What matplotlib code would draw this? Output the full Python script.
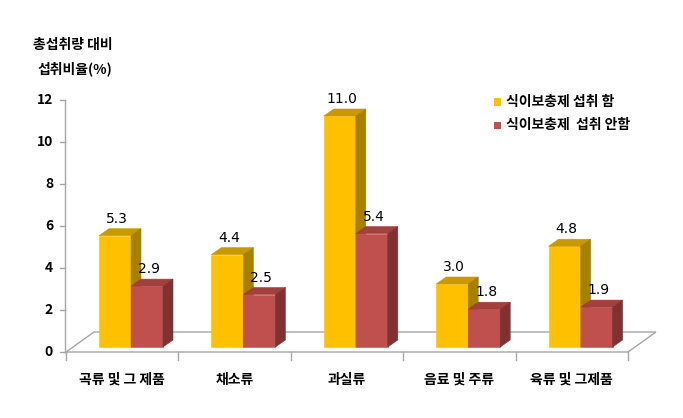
import matplotlib.pyplot as plt
from matplotlib.patches import Polygon

plt.rcParams['font.family'] = ['Noto Sans CJK KR', 'DejaVu Sans']

# data
categories = ['곡류 및 그 제품', '채소류', '과실류', '음료 및 주류', '육류 및 그제품']
taking = [5.3, 4.4, 11.0, 3.0, 4.8]
not_taking = [2.9, 2.5, 5.4, 1.8, 1.9]
series_names = ['식이보충제 섭취 함', '식이보충제  섭취 안함']
yticks = [0, 2, 4, 6, 8, 10, 12]

W, H = 683, 418
fig = plt.figure(figsize=(W / 100, H / 100), dpi=100)
ax = fig.add_axes([66 / W, (H - 352) / H, (628 - 66) / W, (352 - 100) / H])
ax.set_xlim(0, 5)
ax.set_ylim(0, 12)
ax.axis('off')

# pixel -> data helpers for 3d offsets
px_x = 5 / (628 - 66)
px_y = 12 / (352 - 100)
ddx, ddy = 10 * px_x, 7 * px_y      # bar depth
fdx, fdy = 28 * px_x, 20 * px_y     # floor depth
base = 5 * px_y
bw = 32 * px_x
grey = '#a6a6a6'

# floor
floor = Polygon([(0, 0), (5, 0), (5 + fdx, fdy), (fdx, fdy)], closed=True,
                facecolor='white', edgecolor=grey, lw=1, clip_on=False, zorder=1)
ax.add_patch(floor)

# y axis
ax.plot([-1.5 * px_x, -1.5 * px_x], [0, 12], color=grey, lw=1, clip_on=False)
for t in yticks:
    ax.plot([-6.5 * px_x, -1.5 * px_x], [t, t], color=grey, lw=1, clip_on=False)
    ax.text(-13 * px_x, t, str(t), ha='right', va='center', fontsize=10,
            fontweight='bold', clip_on=False)

# x ticks and labels
for i in range(6):
    ax.plot([i, i], [0, -8 * px_y], color=grey, lw=1, clip_on=False)
for i, c in enumerate(categories):
    ax.text(i + 0.5, -28 * px_y, c, ha='center', va='center', fontsize=10,
            fontweight='bold', clip_on=False)

colors = [('#ffc000', '#c89a00', '#a88000'), ('#c0504d', '#a33f3c', '#7f3230')]


def bar3d(x0, v, cols):
    front, top, side = cols
    y0, y1 = base, base + v
    kw = dict(lw=0.4, zorder=3, clip_on=False)
    ax.add_patch(Polygon([(x0, y0), (x0 + bw, y0), (x0 + bw, y1), (x0, y1)],
                         facecolor=front, edgecolor=front, **kw))
    ax.add_patch(Polygon([(x0, y1), (x0 + bw, y1), (x0 + bw + ddx, y1 + ddy), (x0 + ddx, y1 + ddy)],
                         facecolor=top, edgecolor=top, **kw))
    ax.add_patch(Polygon([(x0 + bw, y0), (x0 + bw + ddx, y0 + ddy), (x0 + bw + ddx, y1 + ddy), (x0 + bw, y1)],
                         facecolor=side, edgecolor=side, **kw))
    ax.text(x0 + bw / 2 + ddx * 0.2, y1 + ddy + 3 * px_y, f'{v:.1f}', ha='center',
            va='bottom', fontsize=10, fontfamily='DejaVu Sans', clip_on=False, zorder=4)


for i in range(5):
    x_y = i + 33 * px_x
    bar3d(x_y, taking[i], colors[0])
    bar3d(x_y + bw, not_taking[i], colors[1])

# y title
fig.text(33 / W, 1 - 45 / H, '총섭취량 대비', ha='left', va='center', fontsize=10, fontweight='bold')
fig.text(38 / W, 1 - 69 / H, '섭취비율(%)', ha='left', va='center', fontsize=10, fontweight='bold')

# legend
for k, (name, col) in enumerate(zip(series_names, [colors[0][0], colors[1][0]])):
    yy = 1 - (102 + 23 * k) / H
    fig.patches.append(plt.Rectangle((494 / W, yy - 3.5 / H), 7 / W, 7 / H,
                                     transform=fig.transFigure, facecolor=col, edgecolor='none'))
    fig.text(506 / W, yy, name, ha='left', va='center', fontsize=10, fontweight='bold')

fig.savefig('out.png', dpi=100)
